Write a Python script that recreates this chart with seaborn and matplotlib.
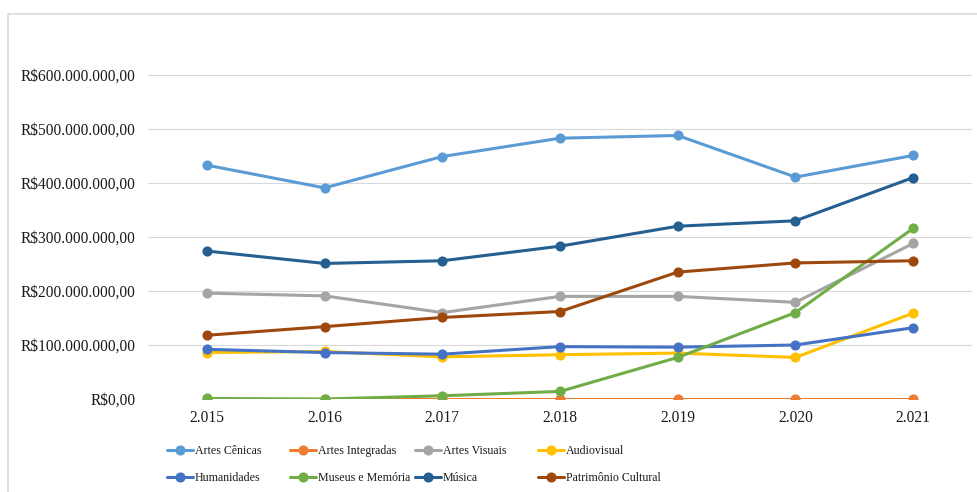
import matplotlib
matplotlib.use("Agg")
import matplotlib.pyplot as plt
from matplotlib.patches import Rectangle
from matplotlib.ticker import FuncFormatter
import seaborn as sns
import pandas as pd

# Annual funding per cultural segment (R$)
anos = [2015, 2016, 2017, 2018, 2019, 2020, 2021]
rotulos_anos = ["2.015", "2.016", "2.017", "2.018", "2.019", "2.020", "2.021"]

artes_cenicas = [433e6, 391e6, 449e6, 483e6, 488e6, 411e6, 451e6]
artes_integradas = [0, 0, 0, 0, 0, 0, 0]
artes_visuais = [196e6, 191e6, 160e6, 190e6, 190e6, 179e6, 288e6]
audiovisual = [86e6, 88e6, 78e6, 82e6, 85e6, 77e6, 159e6]
humanidades = [92e6, 86e6, 83e6, 97e6, 96e6, 100e6, 132e6]
museus_memoria = [1e6, 0, 6e6, 14e6, 77e6, 160e6, 316e6]
musica = [274e6, 251e6, 256e6, 283e6, 320e6, 330e6, 410e6]
patrimonio_cultural = [118e6, 134e6, 151e6, 162e6, 235e6, 252e6, 256e6]

series = {
    "Artes Cênicas": artes_cenicas,
    "Artes Integradas": artes_integradas,
    "Artes Visuais": artes_visuais,
    "Audiovisual": audiovisual,
    "Humanidades": humanidades,
    "Museus e Memória": museus_memoria,
    "Música": musica,
    "Patrimônio Cultural": patrimonio_cultural,
}
cores = ["#5B9BD5", "#ED7D31", "#A5A5A5", "#FFC000",
         "#4472C4", "#70AD47", "#255E91", "#9E480E"]

df = pd.DataFrame(
    [(nome, ano, v) for nome, vals in series.items() for ano, v in zip(anos, vals)],
    columns=["segmento", "ano", "valor"],
)

sns.set_theme(style="white")
plt.rcParams["font.family"] = ["Liberation Serif", "DejaVu Serif"]

fig = plt.figure(figsize=(9.77, 4.92), dpi=100)
ax = fig.add_axes([148 / 977, 1 - 399 / 492, (972 - 148) / 977, (399 - 75) / 492])

sns.lineplot(
    data=df, x="ano", y="valor", hue="segmento",
    hue_order=list(series.keys()), palette=cores,
    marker="o", markersize=7.3, markeredgewidth=0,
    linewidth=2.2, ax=ax, legend=True,
)

ax.set_xlim(anos[0] - 0.5, anos[-1] + 0.5)
ax.set_ylim(0, 600e6)
ax.set_xticks(anos)
ax.set_xticklabels(rotulos_anos)
ax.set_yticks([0, 100e6, 200e6, 300e6, 400e6, 500e6, 600e6])


def moeda(v, _):
    if v == 0:
        return "R$0,00"
    return "R$" + f"{int(v):,}".replace(",", ".") + ",00"


ax.yaxis.set_major_formatter(FuncFormatter(moeda))
ax.set_xlabel("")
ax.set_ylabel("")
ax.tick_params(axis="both", length=0, labelsize=11.2, colors="#1a1a1a")
ax.tick_params(axis="y", pad=9)
ax.tick_params(axis="x", pad=8)
ax.yaxis.grid(True, color="#D9D9D9", linewidth=0.8)
ax.set_axisbelow(True)
for s in ax.spines.values():
    s.set_visible(False)

handles, labels = ax.get_legend_handles_labels()
ax.get_legend().remove()

# legend in four columns, two rows, placed column by column
col_x = [167, 290, 415, 538]
for i, x in enumerate(col_x):
    idx = [i, i + 4]
    leg = fig.legend(
        [handles[j] for j in idx], [labels[j] for j in idx],
        loc="upper left", bbox_to_anchor=(x / 977, 1 - 445 / 492),
        bbox_transform=fig.transFigure, frameon=False,
        fontsize=8.6, handlelength=2.2, handletextpad=0.15,
        labelspacing=1.25, borderaxespad=0, borderpad=0,
    )
    for t in leg.get_texts():
        t.set_color("#1a1a1a")

# chart frame
fig.patches.append(Rectangle(
    (8 / 977, -0.05), 1.1, 1 - 14 / 492 + 0.05,
    transform=fig.transFigure, fill=False,
    edgecolor="#D9D9D9", linewidth=1.2, clip_on=False,
))

fig.savefig("out.png", dpi=100, facecolor="white")
